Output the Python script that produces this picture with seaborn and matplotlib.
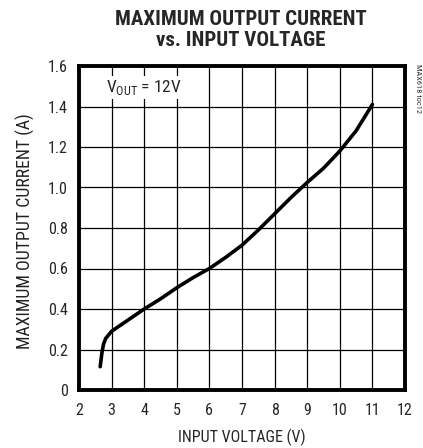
import matplotlib
matplotlib.use("Agg")
import matplotlib.pyplot as plt
import seaborn as sns
import pandas as pd

# curve
vin = [2.65, 2.70, 2.75, 2.82, 3.0, 3.5, 4.0, 4.5, 5.0, 5.5, 6.0, 6.5,
       7.0, 7.5, 8.0, 8.5, 9.0, 9.5, 10.0, 10.5, 11.0]
iout = [0.115, 0.18, 0.225, 0.255, 0.29, 0.345, 0.40, 0.45, 0.505, 0.555,
        0.60, 0.655, 0.715, 0.79, 0.87, 0.95, 1.025, 1.095, 1.18, 1.28, 1.41]
xticks = list(range(2, 13))
yticks = [0, 0.2, 0.4, 0.6, 0.8, 1.0, 1.2, 1.4, 1.6]
ylabels = ["0", "0.2", "0.4", "0.6", "0.8", "1.0", "1.2", "1.4", "1.6"]

sns.set_style("white")
# narrow grotesque, close to the Helvetica Narrow of the original
plt.rcParams['font.family'] = ['Roboto Condensed', 'Liberation Sans', 'DejaVu Sans']
plt.rcParams['mathtext.fontset'] = 'custom'
plt.rcParams['mathtext.rm'] = 'Roboto Condensed'

df = pd.DataFrame({'vin': vin, 'iout': iout})

fig = plt.figure(figsize=(4.23, 4.48), dpi=100)
ax = fig.add_axes([79 / 423, 58 / 448, 326 / 423, 324 / 448])
sns.lineplot(data=df, x='vin', y='iout', ax=ax, color='black', linewidth=2.6)

ax.set_xlim(2, 12)
ax.set_ylim(0, 1.6)
ax.set_xticks(xticks)
ax.set_yticks(yticks)
ax.set_yticklabels(ylabels)
ax.grid(True, color='black', linewidth=0.9)
ax.tick_params(length=0, labelsize=11.5)
ax.tick_params(axis='x', pad=9)
ax.tick_params(axis='y', pad=8)
for s in ax.spines.values():
    s.set_visible(True)
    s.set_color('black')
    s.set_linewidth(2.8)

ax.set_xlabel('INPUT VOLTAGE (V)', fontsize=11.5)
ax.xaxis.set_label_coords(0.5, -(437 - 390) / 324)
ax.xaxis.label.set_va('center')
ax.set_ylabel('MAXIMUM OUTPUT CURRENT (A)', fontsize=12.8)
ax.yaxis.set_label_coords(-(79 - 25) / 326, 0.49)
ax.yaxis.label.set_va('center')
ax.yaxis.label.set_color('#222222')

ax.text(2.82, 1.495, r'V$_{\mathregular{OUT}}$ = 12V', fontsize=12.5, va='center',
        ha='left', bbox=dict(facecolor='white', edgecolor='none', pad=1.5), zorder=5)

fig.text(241 / 423, 1 - 30 / 448, 'MAXIMUM OUTPUT CURRENT\nvs. INPUT VOLTAGE',
         ha='center', va='center', fontsize=15, fontweight='bold', linespacing=1.15)
fig.text(418 / 423, 1 - 64 / 448, 'MAX618 toc12', rotation=270, ha='center', va='top',
         fontsize=6, color='#333333')

fig.savefig('out.png', dpi=100)
